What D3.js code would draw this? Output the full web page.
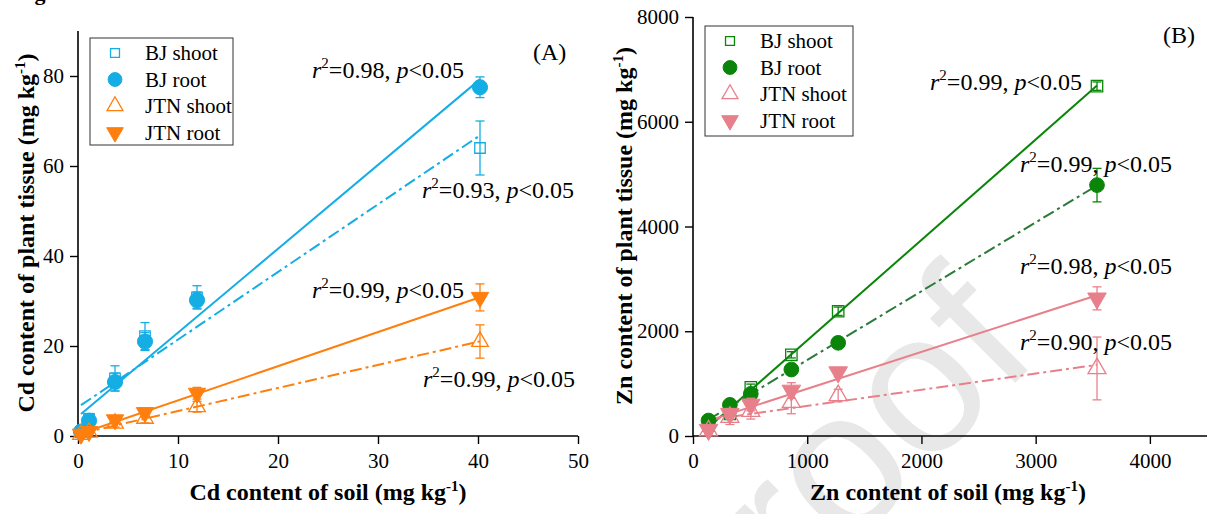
<!DOCTYPE html>
<html>
<head>
<meta charset="utf-8">
<script src="https://cdn.jsdelivr.net/npm/d3@7"></script>
<style>
  body { margin: 0; background: #fff; }
  svg text { font-family: "Liberation Serif", "Times New Roman", serif; fill: #000; }
</style>
</head>
<body>
<svg id="chart" width="1216" height="514"></svg>
<script>
// ---- Panel A: Cd ----
const cdSoil = [0.3, 1.1, 3.7, 6.7, 11.9, 40.2];
const cdBJShoot = [0.8, 3.8, 12.8, 22.2, 30.8, 64.0];
const cdBJShootErr = [0.3, 1.2, 2.8, 3.0, 2.6, 6.0];
const cdBJRoot = [1.0, 3.4, 12.0, 21.0, 30.2, 77.5];
const cdBJRootErr = [0.3, 0.8, 2.0, 2.0, 1.8, 2.3];
const cdJTNShoot = [0.3, 0.8, 2.8, 3.9, 6.5, 21.0];
const cdJTNShootErr = [0.2, 0.3, 0.8, 1.0, 1.2, 3.7];
const cdJTNRoot = [0.4, 1.0, 3.6, 5.2, 9.5, 30.8];
const cdJTNRootErr = [0.2, 0.4, 0.8, 1.0, 1.3, 3.0];
const cdR2 = ['0.93', '0.98', '0.99', '0.99'];

// ---- Panel B: Zn ----
const znSoil = [136, 323, 506, 861, 1271, 3537];
const znBJShoot = [200, 424, 931, 1550, 2382, 6680];
const znBJShootErr = [30, 40, 60, 60, 80, 80];
const znBJRoot = [296, 595, 805, 1269, 1779, 4790];
const znBJRootErr = [40, 50, 60, 60, 70, 320];
const znJTNShoot = [100, 359, 473, 645, 773, 1290];
const znJTNShootErr = [60, 140, 150, 220, 120, 600];
const znJTNRoot = [120, 424, 601, 868, 1218, 2628];
const znJTNRootErr = [50, 100, 120, 150, 90, 220];
const znR2 = ['0.99', '0.99', '0.90', '0.98'];

const seriesNames = ['BJ shoot', 'BJ root', 'JTN shoot', 'JTN root'];
const cdTicksX = [0, 10, 20, 30, 40, 50];
const cdTicksY = [0, 20, 40, 60, 80];
const znTicksX = [0, 1000, 2000, 3000, 4000];
const znTicksY = [0, 2000, 4000, 6000, 8000];

const svg = d3.select('#chart');
const DASHDOT = '12,4,3,4';

// watermark
svg.append('text')
  .attr('transform', 'translate(1042,356) rotate(-45)')
  .attr('text-anchor', 'end')
  .style('font-family', '"Liberation Sans", Arial, sans-serif')
  .style('font-size', '200px')
  .style('fill', '#e8e8e8')
  .text('Journal Pre-proof');

// caption cut off at the top edge
svg.append('text')
  .attr('x', 15).attr('y', 0)
  .style('font-weight', 'bold').style('font-size', '22px')
  .text('Fig');

function linFit(xs, ys) {
  const mx = d3.mean(xs), my = d3.mean(ys);
  const sxy = d3.sum(xs, (x, i) => (x - mx) * (ys[i] - my));
  const sxx = d3.sum(xs, x => (x - mx) ** 2);
  const slope = sxy / sxx;
  return { slope, intercept: my - slope * mx };
}

function r2Label(g, x, y, r2) {
  const t = g.append('text').attr('x', x).attr('y', y).style('font-size', '24px');
  t.append('tspan').style('font-style', 'italic').text('r');
  t.append('tspan').attr('dy', -10).style('font-size', '15px').text('2');
  t.append('tspan').attr('dy', 10).text(`=${r2}, `);
  t.append('tspan').style('font-style', 'italic').text('p');
  t.append('tspan').text('<0.05');
}

function marker(sel, shape, color, size) {
  const types = { square: d3.symbolSquare, circle: d3.symbolCircle, up: d3.symbolTriangle, down: d3.symbolTriangle };
  const open = shape === 'square' || shape === 'up';
  sel.append('path')
    .attr('d', d3.symbol().type(types[shape]).size(size[shape]))
    .attr('transform', shape === 'down' ? 'rotate(180)' : null)
    .attr('fill', open ? 'none' : color)
    .attr('stroke', color)
    .attr('stroke-width', open ? 1.3 : 1);
}

function drawPanel(p) {
  const g = svg.append('g');
  const { x, y } = p;

  // axes
  const xAxis = g.append('g').attr('transform', `translate(0,${y.range()[0]})`);
  xAxis.call(d3.axisBottom(x).tickValues(p.xMinor).tickSize(4).tickFormat(''));
  xAxis.call(d3.axisBottom(x).tickValues(p.xTicks).tickSize(8).tickPadding(9).tickFormat(d3.format('d')));
  const yAxis = g.append('g').attr('transform', `translate(${x.range()[0]},0)`);
  yAxis.call(d3.axisLeft(y).tickValues(p.yMinor).tickSize(4).tickFormat(''));
  yAxis.call(d3.axisLeft(y).tickValues(p.yTicks).tickSize(8).tickPadding(6).tickFormat(d3.format('d')));
  g.selectAll('.domain').attr('stroke-width', 1.6).attr('stroke', '#000');
  g.selectAll('.tick line').attr('stroke-width', 1.4).attr('stroke', '#000');
  g.selectAll('.tick text')
    .style('font-family', '"Liberation Serif", "Times New Roman", serif')
    .style('font-size', '21px').attr('fill', '#000');
  xAxis.select('.domain').attr('d', `M${x.range()[0]},0H${x.range()[1]}`);
  yAxis.select('.domain').attr('d', `M0,${y.range()[0]}V${y.range()[1]}`);

  // axis titles
  const xt = g.append('text').attr('x', p.xTitle[0]).attr('y', p.xTitle[1])
    .attr('text-anchor', 'middle').style('font-weight', 'bold').style('font-size', '24px');
  xt.append('tspan').text(`${p.element} content of soil (mg kg`);
  xt.append('tspan').attr('dy', -9).style('font-size', '15px').text('-1');
  xt.append('tspan').attr('dy', 9).text(')');
  const yt = g.append('text')
    .attr('transform', `translate(${p.yTitle[0]},${p.yTitle[1]}) rotate(-90)`)
    .attr('text-anchor', 'middle').style('font-weight', 'bold').style('font-size', '24px');
  yt.append('tspan').text(`${p.element} content of plant tissue (mg kg`);
  yt.append('tspan').attr('dy', -9).style('font-size', '15px').text('-1');
  yt.append('tspan').attr('dy', 9).text(')');

  // fit lines
  p.series.forEach(s => {
    const f = linFit(p.soil, s.values);
    const xs = d3.extent(p.soil);
    g.append('line')
      .attr('x1', x(xs[0])).attr('y1', y(f.intercept + f.slope * xs[0]))
      .attr('x2', x(xs[1])).attr('y2', y(f.intercept + f.slope * xs[1]))
      .attr('stroke', s.lineColor || s.color).attr('stroke-width', 2)
      .attr('stroke-dasharray', s.dash);
  });

  // error bars and markers
  p.series.forEach(s => {
    const eb = g.append('g').attr('stroke', s.color).attr('stroke-width', 1.3);
    s.values.forEach((v, i) => {
      const cx = x(p.soil[i]);
      const lo = y(v - s.err[i]), hi = y(v + s.err[i]);
      eb.append('line').attr('x1', cx).attr('x2', cx).attr('y1', lo).attr('y2', hi);
      eb.append('line').attr('x1', cx - 4.5).attr('x2', cx + 4.5).attr('y1', lo).attr('y2', lo);
      eb.append('line').attr('x1', cx - 4.5).attr('x2', cx + 4.5).attr('y1', hi).attr('y2', hi);
    });
    s.values.forEach((v, i) => {
      const m = g.append('g').attr('transform', `translate(${x(p.soil[i])},${y(v)})`);
      marker(m, s.shape, s.color, p.markerSize);
    });
  });

  // r2 labels and panel letter
  p.r2.forEach((r, i) => r2Label(g, p.r2Pos[i][0], p.r2Pos[i][1], r));
  g.append('text').attr('x', p.letter[1]).attr('y', p.letter[2])
    .style('font-size', '24px').text(p.letter[0]);

  // legend
  const L = p.legend;
  g.append('rect').attr('x', L.x).attr('y', L.y).attr('width', L.w).attr('height', L.h)
    .attr('fill', '#fff').attr('stroke', '#333').attr('stroke-width', 1);
  p.series.forEach((s, i) => {
    const yy = L.y + 15 + i * 26.5;
    const m = g.append('g').attr('transform', `translate(${L.x + 25},${yy})`);
    marker(m, s.shape, s.color, { square: 80, circle: 150, up: 110, down: 120 });
    g.append('text').attr('x', L.x + 55).attr('y', yy + 7)
      .style('font-size', '21px').text(seriesNames[i]);
  });
}

drawPanel({
  element: 'Cd',
  x: d3.scaleLinear([0, 50], [78, 578]),
  y: d3.scaleLinear([0, 90], [436, 31]),
  xTicks: cdTicksX, xMinor: d3.range(5, 50, 10),
  yTicks: cdTicksY, yMinor: d3.range(10, 91, 20),
  soil: cdSoil,
  series: [
    { values: cdBJShoot, err: cdBJShootErr, color: '#14ade4', shape: 'square', dash: DASHDOT },
    { values: cdBJRoot, err: cdBJRootErr, color: '#14ade4', shape: 'circle', dash: null },
    { values: cdJTNShoot, err: cdJTNShootErr, color: '#ff7f0e', shape: 'up', dash: DASHDOT },
    { values: cdJTNRoot, err: cdJTNRootErr, color: '#ff7f0e', shape: 'down', dash: null }
  ],
  markerSize: { square: 110, circle: 180, up: 120, down: 130 },
  r2: cdR2,
  r2Pos: [[422, 198], [312, 78], [423, 387], [312, 298]],
  letter: ['(A)', 533, 60],
  legend: { x: 90, y: 38, w: 143, h: 107 },
  xTitle: [328, 500],
  yTitle: [34, 233]
});

drawPanel({
  element: 'Zn',
  x: d3.scaleLinear([0, 4500], [693, 1207]),
  y: d3.scaleLinear([0, 8000], [436, 17]),
  xTicks: znTicksX, xMinor: d3.range(500, 4501, 1000),
  yTicks: znTicksY, yMinor: d3.range(1000, 8000, 2000),
  soil: znSoil,
  series: [
    { values: znBJShoot, err: znBJShootErr, color: '#0a850a', shape: 'square', dash: null },
    { values: znBJRoot, err: znBJRootErr, color: '#0a850a', lineColor: '#2a7a3a', shape: 'circle', dash: DASHDOT },
    { values: znJTNShoot, err: znJTNShootErr, color: '#e8808c', shape: 'up', dash: DASHDOT },
    { values: znJTNRoot, err: znJTNRootErr, color: '#e8808c', shape: 'down', dash: null }
  ],
  markerSize: { square: 130, circle: 170, up: 140, down: 150 },
  r2: znR2,
  r2Pos: [[930, 90], [1020, 172], [1020, 350], [1020, 274]],
  letter: ['(B)', 1163, 43],
  legend: { x: 705, y: 26, w: 148, h: 110 },
  xTitle: [948, 500],
  yTitle: [632, 226]
});
</script>
</body>
</html>
